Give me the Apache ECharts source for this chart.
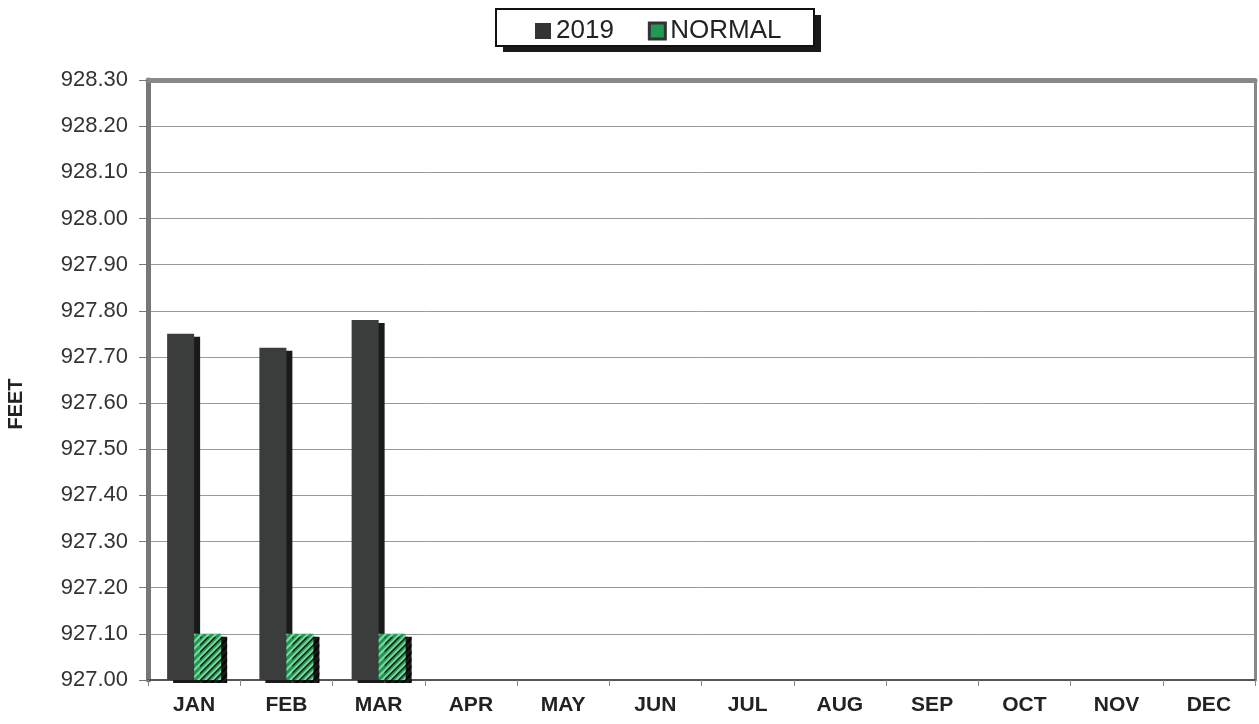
<!DOCTYPE html>
<html><head><meta charset="utf-8">
<script src="https://cdn.jsdelivr.net/npm/echarts@6/dist/echarts.min.js"></script>
<style>html,body{margin:0;padding:0;background:#fff}#c{width:1259px;height:724px}</style>
</head><body><div id="c"></div>
<script>
const months = ['JAN','FEB','MAR','APR','MAY','JUN','JUL','AUG','SEP','OCT','NOV','DEC'];
const values2019 = [927.75, 927.72, 927.78, null, null, null, null, null, null, null, null, null];
const valuesNormal = [927.10, 927.10, 927.10, null, null, null, null, null, null, null, null, null];
const yMin = 927.0, yMax = 928.3, yStep = 0.1;

const font = 'Liberation Sans, Arial, sans-serif';
const chart = echarts.init(document.getElementById('c'));
chart.setOption({
  animation: false,
  backgroundColor: '#fff',
  graphic: [
    { type: 'rect', left: 503, top: 15, shape: { width: 318, height: 37 }, style: { fill: '#1a1a1a' }, z: 0 },
    { type: 'rect', left: 495, top: 8, shape: { width: 318, height: 37 }, style: { fill: '#fff', stroke: '#111', lineWidth: 2 }, z: 1 }
  ],
  grid: { left: 148, right: 4, top: 80, bottom: 44, containLabel: false, outerBoundsMode: 'none' },
  legend: {
    top: 13, left: 530,
    itemGap: 34, itemWidth: 16, itemHeight: 16,
    icon: 'rect', z: 5,
    textStyle: { fontFamily: font, fontSize: 26, color: '#222' },
    data: [
      { name: '2019', itemStyle: { color: '#333' } },
      { name: 'NORMAL', itemStyle: { color: '#1f9a55', borderColor: '#333', borderWidth: 3, decal: 'none' } }
    ]
  },
  xAxis: [{
    type: 'category', data: months,
    axisLine: { lineStyle: { color: '#555', width: 2 } },
    axisTick: { show: true, length: 6, lineStyle: { color: '#888' } },
    axisLabel: { fontFamily: font, fontSize: 21, fontWeight: 'bold', color: '#222', margin: 15 }
  }, {
    type: 'category', data: months, position: 'top',
    axisLine: { lineStyle: { color: '#888', width: 5 } },
    axisTick: { show: false }, axisLabel: { show: false }
  }],
  yAxis: [{
    type: 'value', min: yMin, max: yMax, interval: yStep,
    name: 'FEET', nameLocation: 'middle', nameGap: 122, nameRotate: 90,
    nameTextStyle: { fontFamily: font, fontWeight: 'bold', fontSize: 20, color: '#222', padding: [0, 48, 0, 0] },
    axisLine: { show: true, lineStyle: { color: '#777', width: 5 } },
    axisTick: { show: true, length: 9, lineStyle: { color: '#777' } },
    splitLine: { lineStyle: { color: '#999', width: 1 } },
    axisLabel: { fontFamily: font, fontSize: 22, color: '#333', margin: 20,
      formatter: v => v.toFixed(2) }
  }, {
    type: 'value', min: yMin, max: yMax, interval: yStep, position: 'right',
    axisLine: { show: true, lineStyle: { color: '#888', width: 3 } },
    axisTick: { show: false }, axisLabel: { show: false }, splitLine: { show: false }
  }],
  series: [
    { name: '2019', type: 'bar', data: values2019, barWidth: 27, barGap: '0%',
      itemStyle: { color: '#3b3d3d', shadowColor: '#1a1a1a', shadowOffsetX: 6, shadowOffsetY: 3, shadowBlur: 0 } },
    { name: 'NORMAL', type: 'bar', data: valuesNormal, barWidth: 27,
      itemStyle: { color: '#1f9a55', shadowColor: '#1a1a1a', shadowOffsetX: 6, shadowOffsetY: 3, shadowBlur: 0,
        decal: { symbol: 'rect', dashArrayX: [1, 0], dashArrayY: [2, 3], rotation: -Math.PI / 4, color: 'rgba(160,230,180,0.8)' } } }
  ]
});
</script></body></html>
